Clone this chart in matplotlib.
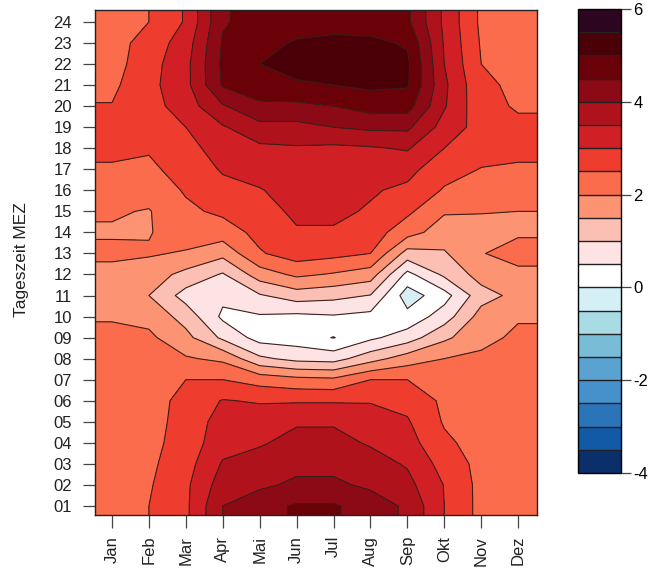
import numpy as np
import matplotlib
matplotlib.use("Agg")
import matplotlib.pyplot as plt
from matplotlib.colors import ListedColormap, BoundaryNorm

months = ["Jan", "Feb", "Mar", "Apr", "Mai", "Jun", "Jul", "Aug", "Sep", "Okt", "Nov", "Dez"]
hour_labels = [f"{h:02d}" for h in range(1, 25)]

# values per hour (01..24), columns Jan..Dez
h01 = [2.3, 2.5, 2.9, 4.0, 4.35, 4.55, 4.55, 4.3, 3.9, 3.0, 2.35, 2.3]
h02 = [2.3, 2.45, 2.9, 3.75, 3.9, 4.1, 4.1, 3.9, 3.65, 2.98, 2.35, 2.3]
h03 = [2.3, 2.4, 2.8, 3.55, 3.7, 3.85, 3.85, 3.7, 3.45, 2.8, 2.35, 2.3]
h04 = [2.3, 2.35, 2.72, 3.3, 3.45, 3.65, 3.65, 3.45, 3.2, 2.6, 2.3, 2.3]
h05 = [2.3, 2.3, 2.7, 3.2, 3.3, 3.45, 3.45, 3.35, 3.05, 2.45, 2.3, 2.3]
h06 = [2.3, 2.3, 2.65, 3.03, 2.95, 2.95, 2.95, 2.95, 2.85, 2.4, 2.3, 2.25]
h07 = [2.25, 2.25, 2.5, 2.5, 2.3, 2.15, 2.1, 2.5, 2.5, 2.3, 2.3, 2.25]
h08 = [2.2, 2.2, 2.05, 1.9, 1.1, 0.85, 0.8, 1.3, 1.75, 2.0, 2.1, 2.2]
h09 = [2.15, 2.1, 1.65, 0.9, 0.3, 0.25, -0.02, 0.4, 0.75, 1.4, 1.85, 2.1]
h10 = [1.95, 1.85, 1.3, 0.4, 0.45, 0.38, 0.45, 0.35, 0.15, 0.75, 1.7, 1.95]
h11 = [1.8, 1.5, 0.8, 0.62, 0.95, 1.25, 1.15, 0.98, -0.25, 0.3, 1.3, 1.65]
h12 = [1.85, 1.75, 1.35, 0.95, 1.75, 2.1, 1.95, 1.75, 0.35, 1.1, 1.7, 1.9]
h13 = [2.1, 2.05, 1.95, 1.65, 2.45, 2.75, 2.65, 2.5, 1.3, 1.45, 1.98, 2.15]
h14 = [1.95, 1.97, 2.25, 2.25, 2.65, 2.95, 2.95, 2.75, 2.2, 1.75, 1.85, 1.95]
h15 = [2.05, 1.97, 2.4, 2.6, 2.8, 3.1, 3.1, 2.95, 2.6, 2.05, 2.02, 2.0]
h16 = [2.2, 2.2, 2.55, 2.85, 2.97, 3.2, 3.2, 3.05, 2.9, 2.45, 2.3, 2.25]
h17 = [2.45, 2.4, 2.7, 3.05, 3.2, 3.3, 3.3, 3.25, 3.15, 2.7, 2.48, 2.45]
h18 = [2.6, 2.55, 2.85, 3.2, 3.4, 3.45, 3.4, 3.45, 3.55, 3.0, 2.7, 2.6]
h19 = [2.6, 2.7, 3.0, 3.45, 3.85, 3.85, 4.0, 4.1, 4.1, 3.3, 2.8, 2.6]
h20 = [2.52, 2.8, 3.25, 3.95, 4.4, 4.4, 4.5, 4.7, 4.7, 3.55, 2.65, 2.45]
h21 = [2.4, 2.85, 3.35, 4.55, 4.8, 4.9, 5.0, 5.1, 5.05, 3.6, 2.6, 2.4]
h22 = [2.3, 2.8, 3.35, 4.6, 5.0, 5.3, 5.35, 5.3, 5.1, 3.5, 2.5, 2.35]
h23 = [2.3, 2.7, 3.25, 4.55, 4.85, 5.05, 5.1, 5.1, 4.95, 3.45, 2.45, 2.3]
h24 = [2.3, 2.5, 3.05, 4.45, 4.7, 4.8, 4.85, 4.8, 4.6, 3.4, 2.4, 2.3]

rows = [h01, h02, h03, h04, h05, h06, h07, h08, h09, h10, h11, h12,
        h13, h14, h15, h16, h17, h18, h19, h20, h21, h22, h23, h24]

levels = np.arange(-4, 6.01, 0.5)
band_colors = ['#0a2f6b', '#125aa5', '#2c74b8', '#4690cb', '#5aa2d0', '#78bcd6',
               '#a8dbe3', '#d5eff6',
               '#ffffff', '#fde3e3', '#fbbfb3', '#fc9474', '#fa6c4b', '#ee3d2e',
               '#d01f25', '#b0121c', '#8c0a15', '#6a0008', '#4a0006', '#2c0520']

Z = np.array(rows)
x = np.arange(1, 13)
y = np.arange(1, 25)
xlim = (0.54, 12.51)
ylim = (0.57, 24.57)
# extend grid to the plot edges
Zp = np.pad(Z, 1, mode="edge")
xp = np.concatenate([[xlim[0]], x, [xlim[1]]])
yp = np.concatenate([[ylim[0]], y, [ylim[1]]])

cmap = ListedColormap(band_colors)
norm = BoundaryNorm(levels, cmap.N)

plt.rcParams['font.family'] = ['Liberation Sans', 'DejaVu Sans']
fig = plt.figure(figsize=(6.52, 5.70), dpi=100)
ax = fig.add_axes([95/652, 55/570, 442/652, 505/570])
cf = ax.contourf(xp, yp, Zp, levels=levels, cmap=cmap, norm=norm)
cs = ax.contour(xp, yp, Zp, levels=levels, colors='#3b1f1a', linewidths=0.8)
ax.set_xlim(*xlim)
ax.set_ylim(*ylim)
ax.set_xticks(x)
ax.set_xticklabels(months, rotation=90, fontsize=12, color='#222222')
ax.set_yticks(y)
ax.set_yticklabels(hour_labels, fontsize=12, color='#222222')
ax.tick_params(axis='y', length=8.5, width=0.9, color='#444444', pad=8)
ax.tick_params(axis='x', length=9, width=0.9, color='#444444', pad=6)
ax.set_ylabel("Tageszeit MEZ", fontsize=12.5, color='#222222')
ax.yaxis.set_label_coords(-0.149, 0.505)
for s in ax.spines.values():
    s.set_linewidth(1.0)
    s.set_color('#222222')

cax = fig.add_axes([578/652, 97/570, 43/652, 464/570])
cb = fig.colorbar(cf, cax=cax, ticks=[-4, -2, 0, 2, 4, 6])
cb.minorticks_off()
cb.ax.tick_params(length=7, width=0.9, labelsize=12, color='#444444', pad=2)
cb.outline.set_linewidth(1.0)
cb.ax.set_yticklabels(["-4", "-2", "0", "2", "4", "6"])
for lv in levels[1:-1]:
    cb.ax.axhline(lv, color='#222222', linewidth=1.0)

fig.savefig("out.png", dpi=100)
